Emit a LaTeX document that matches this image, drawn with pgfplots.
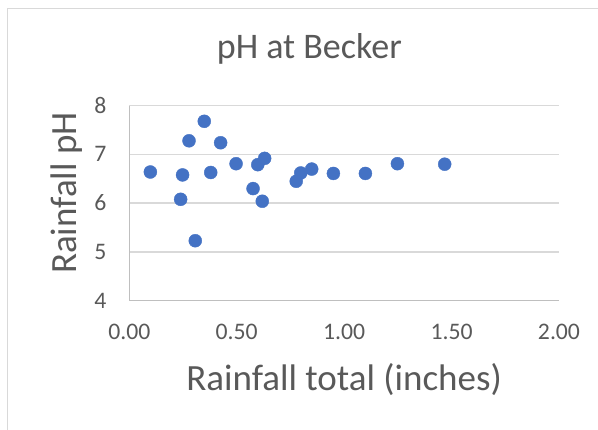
\documentclass[border=0pt]{standalone}
\usepackage{fontspec}
\setmainfont{Carlito}
\usepackage{pgfplots}
\pgfplotsset{compat=1.18}

\definecolor{textc}{HTML}{595959}
\definecolor{gridc}{HTML}{D9D9D9}
\definecolor{axlnc}{HTML}{BFBFBF}
\definecolor{dotc}{HTML}{4472C4}

\begin{document}
\begin{tikzpicture}
% fix the page to the reference size (1pt = 1px), axis origin at (0,0)
\path[use as bounding box] (-129.3pt,-129.3pt) rectangle (468.7pt,300.7pt);
% chart frame
\draw[gridc, line width=1pt] (-121.7pt,-200pt) -- (-121.7pt,292.3pt) -- (600pt,292.3pt);

\begin{axis}[
    at={(0,0)}, anchor=origin,
    width=429.7pt, height=195pt, scale only axis,
    xmin=0, xmax=2, ymin=4, ymax=8,
    xtick={0,0.5,1,1.5,2}, ytick={4,5,6,7,8},
    axis lines=left,
    axis line style={axlnc, line width=1.5pt, -},
    ymajorgrids, xmajorgrids=false,
    grid style={draw=gridc, line width=1.5pt},
    major tick length=0pt,
    /pgf/number format/assume math mode=true,
    xticklabel={\pgfmathprintnumber[fixed, fixed zerofill, precision=2]{\tick}},
    ticklabel style={font=\fontsize{23.7}{28}\selectfont, text=textc, inner sep=0pt},
    xticklabel style={anchor=base, yshift=-39.3pt},
    yticklabel style={anchor=base east, xshift=-22.6pt, yshift=-7.5pt},
    title={pH at Becker},
    title style={at={(axis description cs:0.419,1)}, anchor=base, yshift=41.4pt,
        font=\fontsize{36}{43}\selectfont, text=textc, inner sep=0pt},
    xlabel={Rainfall total (inches)},
    xlabel style={at={(axis description cs:0.5,0)}, anchor=base, yshift=-90pt,
        font=\fontsize{37}{44}\selectfont, text=textc, inner sep=0pt},
    ylabel={Rainfall pH},
    ylabel style={at={(axis description cs:-0.1224,0.552)}, anchor=base,
        font=\fontsize{37}{44}\selectfont, text=textc, inner sep=0pt},
]
\addplot[only marks, mark=*, mark size=6.5pt, mark options={fill=dotc, draw=dotc}]
coordinates {
    (0.098,6.64) (0.248,6.58) (0.239,6.08) (0.307,5.23) (0.278,7.28)
    (0.349,7.68) (0.379,6.63) (0.425,7.24) (0.497,6.81) (0.576,6.30)
    (0.598,6.79) (0.630,6.92) (0.619,6.04) (0.777,6.45) (0.798,6.62)
    (0.849,6.70) (0.950,6.61) (1.099,6.61) (1.248,6.81) (1.468,6.80)
};
\end{axis}
\end{tikzpicture}
\end{document}
